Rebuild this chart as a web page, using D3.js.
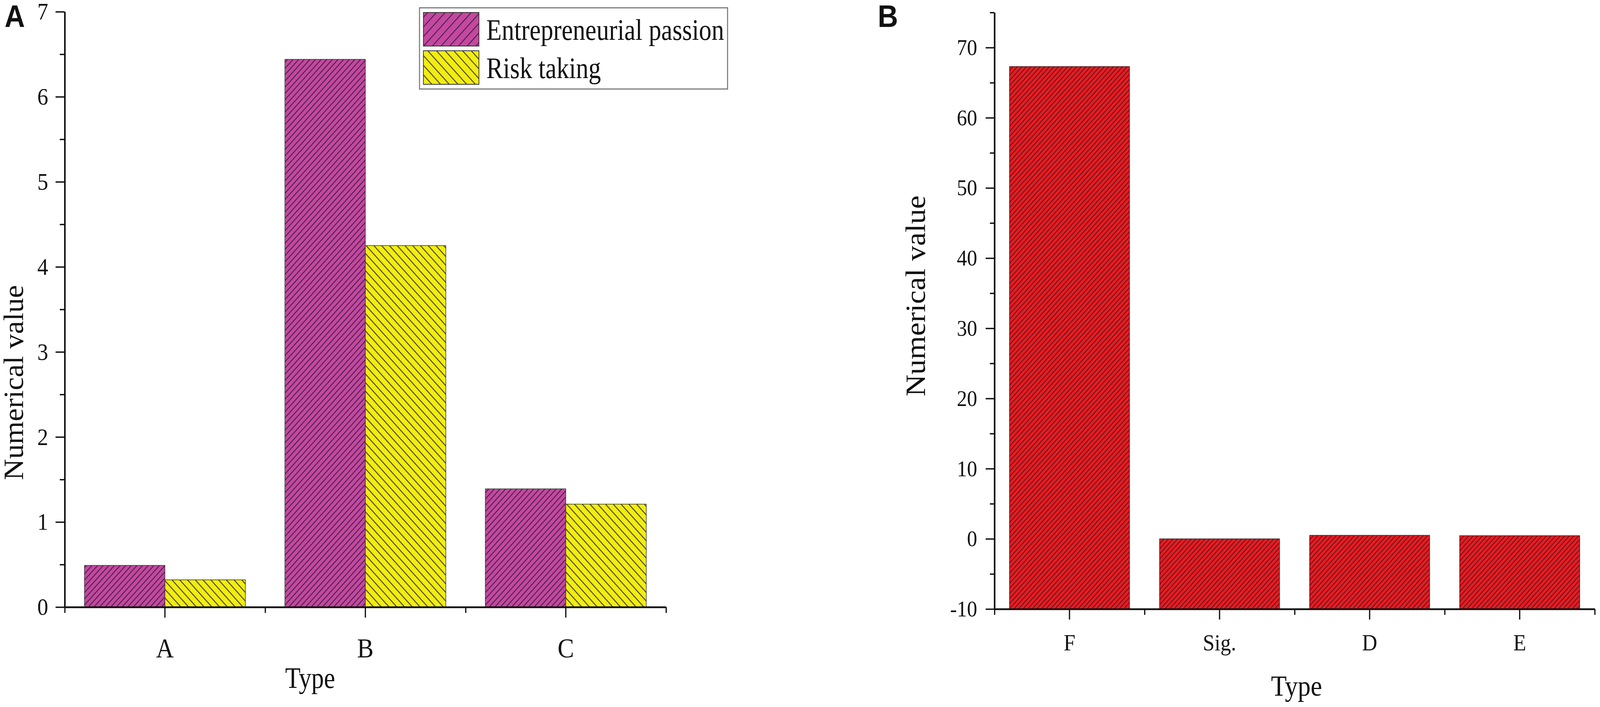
<!DOCTYPE html>
<html>
<head>
<meta charset="utf-8">
<script src="https://cdn.jsdelivr.net/npm/d3@7"></script>
<style>
  html, body { margin: 0; padding: 0; background: #fff; overflow: hidden; width: 100%; height: 100%; }
  svg { display: block; }
  text { font-family: "Liberation Serif", "Times New Roman", serif; fill: #111; }
</style>
</head>
<body>
<script>
// ---- data ----
const categoriesA = ["A", "B", "C"];
const seriesA = ["Entrepreneurial passion", "Risk taking"];
const passionValues = [0.49, 6.44, 1.39];
const riskValues = [0.32, 4.25, 1.21];
const ticksA = [0, 1, 2, 3, 4, 5, 6, 7];
const minorTicksA = [0.5, 1.5, 2.5, 3.5, 4.5, 5.5, 6.5];

const categoriesB = ["F", "Sig.", "D", "E"];
const valuesB = [67.3, 0.0, 0.5, 0.45];
const ticksB = [-10, 0, 10, 20, 30, 40, 50, 60, 70];
const minorTicksB = [-5, 5, 15, 25, 35, 45, 55, 65, 75];

const W = 4550, H = 1811;
const SERIF = "'Liberation Serif', 'Times New Roman', serif";
const SANS = "'Liberation Sans', Arial, sans-serif";

const svg = d3.select("body").append("svg")
    .attr("viewBox", `0 0 ${W} ${H}`)
    .attr("preserveAspectRatio", "none")
    .attr("width", "100%")
    .attr("height", "100%");

svg.append("rect").attr("width", W).attr("height", H).attr("fill", "#fff");

const defs = svg.append("defs");

// diagonal hatch: angle 45 gives "/", -45 gives "\"
function hatch(id, fill, lineColor, spacing, angle){
    const p = defs.append("pattern")
        .attr("id", id)
        .attr("patternUnits", "userSpaceOnUse")
        .attr("width", spacing)
        .attr("height", spacing)
        .attr("patternTransform", `rotate(${angle})`);
    p.append("rect").attr("width", spacing).attr("height", spacing).attr("fill", fill);
    p.append("line")
        .attr("x1", spacing / 2).attr("x2", spacing / 2)
        .attr("y1", 0).attr("y2", spacing)
        .attr("stroke", lineColor)
        .attr("stroke-width", 2.2);
}
hatch("hMag", "#C448A0", "#3a1c3a", 11.3, 45);
hatch("hYel", "#F2EC14", "#2b2a12", 15.6, -45);
hatch("hRed", "#E81C24", "#5a1414", 9.2, 45);
hatch("hMagL", "#C448A0", "#3a1c3a", 17.5, 45);
hatch("hYelL", "#F2EC14", "#2b2a12", 17.5, -45);

// squeeze text a bit, the source figure is horizontally condensed
function squeeze(sel, len){
    sel.attr("textLength", len).attr("lengthAdjust", "spacingAndGlyphs");
}

function styleAxis(g, size){
    g.attr("font-family", null);
    g.select(".domain").attr("stroke", "#111").attr("stroke-width", 4.5);
    g.selectAll(".tick line").attr("stroke", "#111").attr("stroke-width", 3.5);
    g.selectAll(".tick text")
        .style("font-family", SERIF)
        .style("font-size", size + "px")
        .attr("fill", "#222");
}

// ================= Panel A =================
const xA = d3.scaleBand().domain(categoriesA).range([184, 1894]);
const xSubA = d3.scaleBand().domain(seriesA).range([0, xA.bandwidth()]).paddingOuter(0.245);
const idxA = d3.scaleLinear().domain([0, categoriesA.length]).range([184, 1894]);
const yA = d3.scaleLinear().domain([0, 7]).range([1555, 30]);
const fillsA = ["url(#hMag)", "url(#hYel)"];
const legendFillsA = ["url(#hMagL)", "url(#hYelL)"];

const rowsA = categoriesA.map((c, i) => ({cat: c, vals: [passionValues[i], riskValues[i]]}));

const gA = svg.append("g");
gA.selectAll("g.grp")
    .data(rowsA)
    .enter().append("g")
        .attr("class", "grp")
        .attr("transform", d => `translate(${xA(d.cat)},0)`)
    .selectAll("rect")
    .data(d => d.vals.map((v, j) => ({s: seriesA[j], v, j})))
    .enter().append("rect")
        .attr("x", d => xSubA(d.s))
        .attr("width", xSubA.bandwidth())
        .attr("y", d => yA(d.v))
        .attr("height", d => yA(0) - yA(d.v))
        .attr("fill", d => fillsA[d.j])
        .attr("stroke", "#333")
        .attr("stroke-width", 1.5);

// y axis A
const yAxA = gA.append("g").attr("transform", "translate(184,0)")
    .call(d3.axisLeft(yA).tickValues(ticksA).tickFormat(d => String(d))
        .tickSize(26).tickSizeOuter(0).tickPadding(21));
styleAxis(yAxA, 62);
const yMinA = gA.append("g").attr("transform", "translate(184,0)")
    .call(d3.axisLeft(yA).tickValues(minorTicksA).tickSize(14).tickFormat(""));
yMinA.select(".domain").remove();
styleAxis(yMinA, 60);

// x axis A
const xAxA = gA.append("g").attr("transform", `translate(0,${yA(0)})`)
    .call(d3.axisBottom(xA).tickSize(27).tickSizeOuter(0).tickPadding(52));
styleAxis(xAxA, 70);
const xMinA = gA.append("g").attr("transform", `translate(0,${yA(0)})`)
    .call(d3.axisBottom(idxA).tickValues(d3.range(categoriesA.length + 1)).tickSize(15).tickFormat(""));
xMinA.select(".domain").remove();
styleAxis(xMinA, 60);

gA.append("text")
    .attr("transform", "translate(66,980) rotate(-90)")
    .attr("text-anchor", "middle")
    .style("font-size", "80px")
    .text("Numerical value")
    .call(squeeze, 500);
gA.append("text")
    .attr("x", 882).attr("y", 1762)
    .attr("text-anchor", "middle")
    .style("font-size", "76px")
    .text("Type")
    .call(squeeze, 142);

// legend
const legend = gA.append("g");
legend.append("rect")
    .attr("x", 1193).attr("y", 20)
    .attr("width", 876).attr("height", 208)
    .attr("fill", "#fff")
    .attr("stroke", "#7a7a7a")
    .attr("stroke-width", 3);
const legRows = legend.selectAll("g.row")
    .data(seriesA)
    .enter().append("g")
        .attr("class", "row")
        .attr("transform", (d, i) => `translate(1204,${32 + i * 98})`);
legRows.append("rect")
    .attr("width", 158).attr("height", 86)
    .attr("fill", (d, i) => legendFillsA[i])
    .attr("stroke", "#333")
    .attr("stroke-width", 2);
const legLens = [676, 326];
legRows.append("text")
    .attr("x", 179).attr("y", 70)
    .style("font-size", "77px")
    .text(d => d)
    .attr("textLength", (d, i) => legLens[i])
    .attr("lengthAdjust", "spacingAndGlyphs");

svg.append("text")
    .attr("x", 13).attr("y", 69)
    .attr("font-weight", "bold")
    .style("font-family", SANS)
    .style("font-size", "80px")
    .text("A");

// ================= Panel B =================
const xB = d3.scaleBand().domain(categoriesB).range([2828, 4535]).paddingInner(0.2).paddingOuter(0.1);
const idxB = d3.scaleLinear().domain([0, categoriesB.length]).range([2828, 4535]);
const yB = d3.scaleLinear().domain([-10, 75]).range([1560, 32]);

const gB = svg.append("g");
gB.selectAll("rect.bar")
    .data(categoriesB.map((c, i) => ({cat: c, v: valuesB[i]})))
    .enter().append("rect")
        .attr("class", "bar")
        .attr("x", d => xB(d.cat))
        .attr("width", xB.bandwidth())
        .attr("y", d => yB(d.v))
        .attr("height", d => yB(-10) - yB(d.v))
        .attr("fill", "url(#hRed)")
        .attr("stroke", "#3a1a1a")
        .attr("stroke-width", 1.5);

const yAxB = gB.append("g").attr("transform", "translate(2828,0)")
    .call(d3.axisLeft(yB).tickValues(ticksB).tickFormat(d => String(d))
        .tickSize(25).tickSizeOuter(0).tickPadding(24));
styleAxis(yAxB, 58);
const yMinB = gB.append("g").attr("transform", "translate(2828,0)")
    .call(d3.axisLeft(yB).tickValues(minorTicksB).tickSize(13).tickFormat(""));
yMinB.select(".domain").remove();
styleAxis(yMinB, 58);

const xAxB = gB.append("g").attr("transform", `translate(0,${yB(-10)})`)
    .call(d3.axisBottom(xB).tickSize(27).tickSizeOuter(0).tickPadding(36));
styleAxis(xAxB, 60);
const xMinB = gB.append("g").attr("transform", `translate(0,${yB(-10)})`)
    .call(d3.axisBottom(idxB).tickValues(d3.range(categoriesB.length + 1)).tickSize(15).tickFormat(""));
xMinB.select(".domain").remove();
styleAxis(xMinB, 60);

gB.append("text")
    .attr("transform", "translate(2631,758) rotate(-90)")
    .attr("text-anchor", "middle")
    .style("font-size", "80px")
    .text("Numerical value")
    .call(squeeze, 515);
gB.append("text")
    .attr("x", 3687).attr("y", 1782)
    .attr("text-anchor", "middle")
    .style("font-size", "74px")
    .text("Type")
    .call(squeeze, 145);

svg.append("text")
    .attr("x", 2496).attr("y", 69)
    .attr("font-weight", "bold")
    .style("font-family", SANS)
    .style("font-size", "80px")
    .text("B");
</script>
</body>
</html>
